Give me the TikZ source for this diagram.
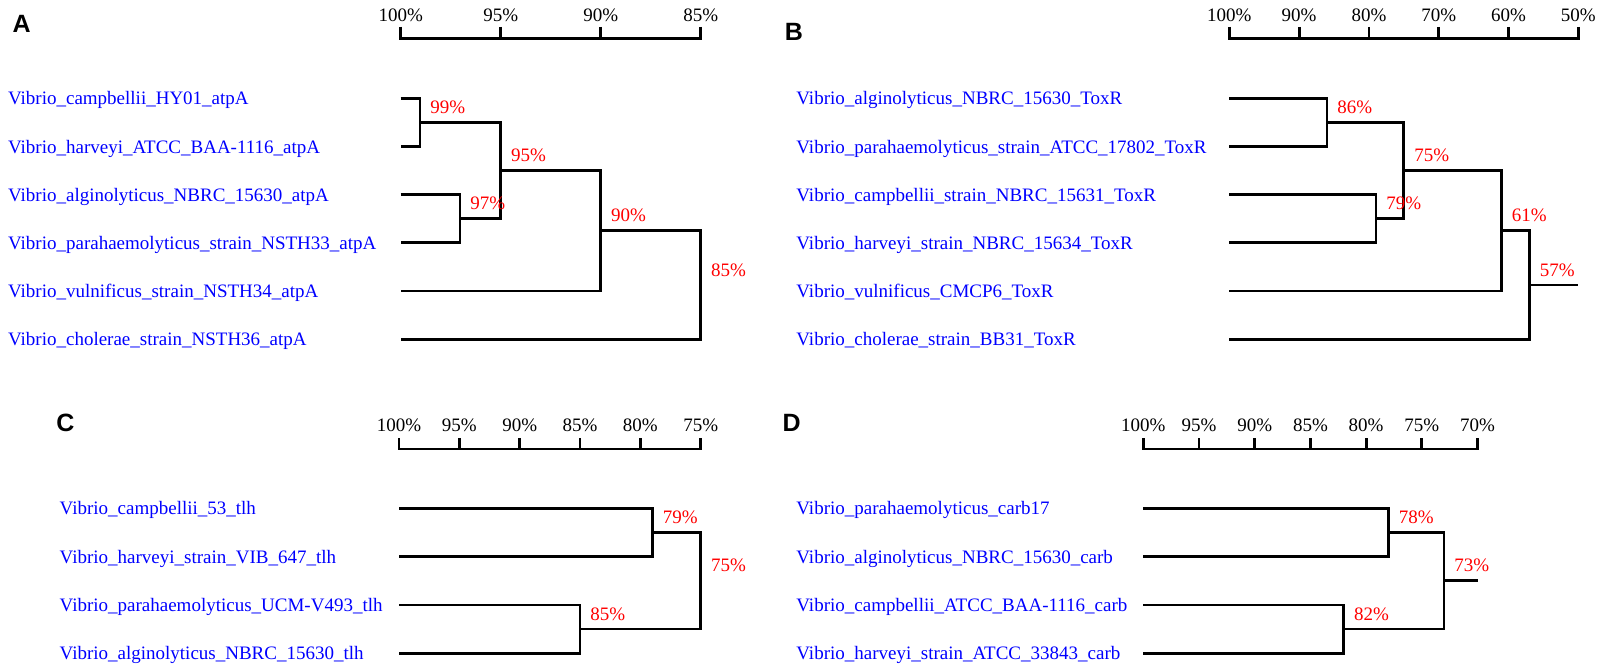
\documentclass[tikz,border=0pt]{standalone}
\usepackage{fontspec}
\setmainfont{Liberation Serif}
\newfontfamily\panelfont{Liberation Sans}
\begin{document}
\begin{tikzpicture}[x=1pt, y=-1pt, line width=2.8pt,
        leaf/.style={font=\fontsize{19}{22}\selectfont, text=blue, inner sep=0pt, anchor=base west},
        pct/.style={font=\fontsize{19}{22}\selectfont, text=red, inner sep=0pt, anchor=west},
        scalelbl/.style={font=\fontsize{19}{22}\selectfont, inner sep=0pt},
        panel/.style={font=\panelfont\bfseries\fontsize{25}{30}\selectfont, inner sep=0pt}]
        \useasboundingbox (0,0) rectangle (1600,669);

        % Letras dos paineis
        \node[panel] (A) at (21.7,24) {A};
        \node[panel] (B) at (794,31.7) {B};
        \node[panel] (C) at (65.5,422.5) {C};
        \node[panel] (D) at (791.7,422.5) {D};

        % Escala A
        \draw (400.7,27) -- (400.7,38.3) -- (700.7,38.3) -- (700.7,27);
        \foreach \p [count=\i] in {100,95,90,85} {
          \draw ({400.7+20*(100-\p)},27) -- ++(0,11.3);
          \node[scalelbl] (sa\i) at ({400.7+20*(100-\p)},15) {\p\%};
        }

        % Painel A
        \node[leaf] (ta1) at (6.7,104.8) {Vibrio\_campbellii\_HY01\_atpA};
        \node[leaf] (ta2) at (6.7,153) {Vibrio\_harveyi\_ATCC\_BAA-1116\_atpA};
        \node[leaf] (ta3) at (6.7,201.2) {Vibrio\_alginolyticus\_NBRC\_15630\_atpA};
        \node[leaf] (ta4) at (6.7,249.3) {Vibrio\_parahaemolyticus\_strain\_NSTH33\_atpA};
        \node[leaf] (ta5) at (6.7,297.5) {Vibrio\_vulnificus\_strain\_NSTH34\_atpA};
        \node[leaf] (ta6) at (6.7,345.7) {Vibrio\_cholerae\_strain\_NSTH36\_atpA};
        \coordinate (la1) at (400.7,98.3);
        \coordinate (la2) at (400.7,146.5);
        \coordinate (la3) at (400.7,194.7);
        \coordinate (la4) at (400.7,242.8);
        \coordinate (la5) at (400.7,291);
        \coordinate (la6) at (400.7,339.2);
        \coordinate (a99) at (420,122.4);
        \coordinate (a97) at (460,218.75);
        \coordinate (a95) at (500.7,170.6);
        \coordinate (a90) at (600.7,230.8);
        \coordinate (a85) at (700.7,285);
        \draw (la1) -| (a99) |- (la2);
        \draw (la3) -| (a97) |- (la4);
        \draw (a99) -| (a95) |- (a97);
        \draw (a95) -| (a90) |- (la5);
        \draw (a90) -| (a85) |- (la6);
        \node[pct] (pa99) at (429,107.4) {99\%};
        \node[pct] (pa97) at (469,203.75) {97\%};
        \node[pct] (pa95) at (509.7,155.6) {95\%};
        \node[pct] (pa90) at (609.7,215.8) {90\%};
        \node[pct] (pa85) at (709.7,270) {85\%};

        % Escala B
        \draw (1229.3,27) -- (1229.3,38.3) -- (1578.3,38.3) -- (1578.3,27);
        \foreach \p [count=\i] in {100,90,80,70,60,50} {
          \draw ({1229.3+6.98*(100-\p)},27) -- ++(0,11.3);
          \node[scalelbl] (sb\i) at ({1229.3+6.98*(100-\p)},15) {\p\%};
        }

        % Painel B
        \node[leaf] (tb1) at (795,104.8) {Vibrio\_alginolyticus\_NBRC\_15630\_ToxR};
        \node[leaf] (tb2) at (795,153) {Vibrio\_parahaemolyticus\_strain\_ATCC\_17802\_ToxR};
        \node[leaf] (tb3) at (795,201.2) {Vibrio\_campbellii\_strain\_NBRC\_15631\_ToxR};
        \node[leaf] (tb4) at (795,249.3) {Vibrio\_harveyi\_strain\_NBRC\_15634\_ToxR};
        \node[leaf] (tb5) at (795,297.5) {Vibrio\_vulnificus\_CMCP6\_ToxR};
        \node[leaf] (tb6) at (795,345.7) {Vibrio\_cholerae\_strain\_BB31\_ToxR};
        \coordinate (lb1) at (1229.3,98.3);
        \coordinate (lb2) at (1229.3,146.5);
        \coordinate (lb3) at (1229.3,194.7);
        \coordinate (lb4) at (1229.3,242.8);
        \coordinate (lb5) at (1229.3,291);
        \coordinate (lb6) at (1229.3,339.2);
        \coordinate (b86) at (1327,122.4);
        \coordinate (b79) at (1375.9,218.75);
        \coordinate (b75) at (1403.8,170.6);
        \coordinate (b61) at (1501.5,230.8);
        \coordinate (b57) at (1529.5,285);
        \coordinate (b50) at (1578.3,285);
        \draw (lb1) -| (b86) |- (lb2);
        \draw (lb3) -| (b79) |- (lb4);
        \draw (b86) -| (b75) |- (b79);
        \draw (b75) -| (b61) |- (lb5);
        \draw (b61) -| (b57) |- (lb6);
        \draw (b57) -- (b50);
        \node[pct] (pb86) at (1336,107.4) {86\%};
        \node[pct] (pb79) at (1385,203.75) {79\%};
        \node[pct] (pb75) at (1413,155.6) {75\%};
        \node[pct] (pb61) at (1510.5,215.8) {61\%};
        \node[pct] (pb57) at (1538.5,270) {57\%};

        % Escala C
        \draw (399,438.3) -- (399,449) -- (700.7,449) -- (700.7,438.3);
        \foreach \p [count=\i] in {100,95,90,85,80,75} {
          \draw ({399+12.07*(100-\p)},438.3) -- ++(0,10.7);
          \node[scalelbl] (sc\i) at ({399+12.07*(100-\p)},425) {\p\%};
        }

        % Painel C
        \node[leaf] (tc1) at (58.3,514.8) {Vibrio\_campbellii\_53\_tlh};
        \node[leaf] (tc2) at (58.3,563.1) {Vibrio\_harveyi\_strain\_VIB\_647\_tlh};
        \node[leaf] (tc3) at (58.3,611.4) {Vibrio\_parahaemolyticus\_UCM-V493\_tlh};
        \node[leaf] (tc4) at (58.3,659.7) {Vibrio\_alginolyticus\_NBRC\_15630\_tlh};
        \coordinate (lc1) at (399,508.3);
        \coordinate (lc2) at (399,556.6);
        \coordinate (lc3) at (399,604.9);
        \coordinate (lc4) at (399,653.2);
        \coordinate (c79) at (652.5,532.45);
        \coordinate (c85) at (580,629.05);
        \coordinate (c75) at (700.7,580.75);
        \draw (lc1) -| (c79) |- (lc2);
        \draw (lc3) -| (c85) |- (lc4);
        \draw (c79) -| (c75) |- (c85);
        \node[pct] (pc79) at (661.5,517.5) {79\%};
        \node[pct] (pc85) at (589,614) {85\%};
        \node[pct] (pc75) at (709.7,565.75) {75\%};

        % Escala D
        \draw (1143.3,438.3) -- (1143.3,449) -- (1477.5,449) -- (1477.5,438.3);
        \foreach \p [count=\i] in {100,95,90,85,80,75,70} {
          \draw ({1143.3+11.14*(100-\p)},438.3) -- ++(0,10.7);
          \node[scalelbl] (sd\i) at ({1143.3+11.14*(100-\p)},425) {\p\%};
        }

        % Painel D
        \node[leaf] (td1) at (795,514.8) {Vibrio\_parahaemolyticus\_carb17};
        \node[leaf] (td2) at (795,563.1) {Vibrio\_alginolyticus\_NBRC\_15630\_carb};
        \node[leaf] (td3) at (795,611.4) {Vibrio\_campbellii\_ATCC\_BAA-1116\_carb};
        \node[leaf] (td4) at (795,659.7) {Vibrio\_harveyi\_strain\_ATCC\_33843\_carb};
        \coordinate (ld1) at (1143.3,508.3);
        \coordinate (ld2) at (1143.3,556.6);
        \coordinate (ld3) at (1143.3,604.9);
        \coordinate (ld4) at (1143.3,653.2);
        \coordinate (d78) at (1388.4,532.45);
        \coordinate (d82) at (1343.8,629.05);
        \coordinate (d73) at (1444,580.75);
        \coordinate (d70) at (1477.5,580.75);
        \draw (ld1) -| (d78) |- (ld2);
        \draw (ld3) -| (d82) |- (ld4);
        \draw (d78) -| (d73) |- (d82);
        \draw (d73) -- (d70);
        \node[pct] (pd78) at (1397.4,517.5) {78\%};
        \node[pct] (pd82) at (1352.8,614) {82\%};
        \node[pct] (pd73) at (1453,565.75) {73\%};
      \end{tikzpicture}
\end{document}
